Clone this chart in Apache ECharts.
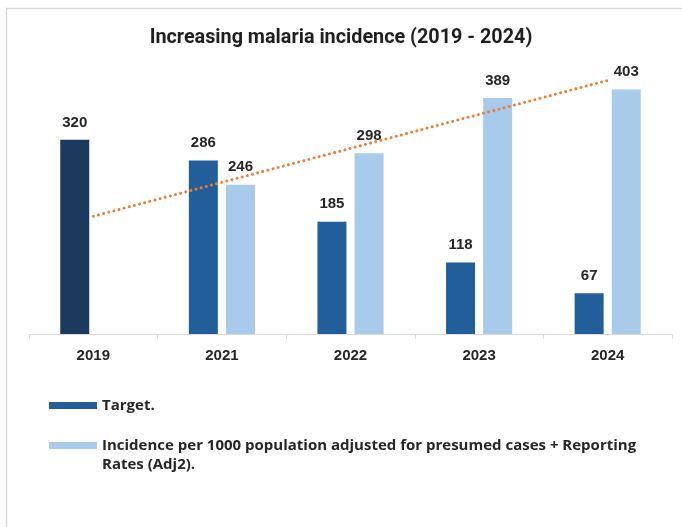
<!DOCTYPE html>
<html>
<head>
<meta charset="utf-8">
<script src="https://cdn.jsdelivr.net/npm/echarts@6/dist/echarts.min.js"></script>
<style>
html,body{margin:0;padding:0;background:#fff;}
#chart{width:682px;height:527px;}
</style>
</head>
<body>
<div id="chart"></div>
<script>
const titleText = 'Increasing malaria incidence (2019 - 2024)';
const categories = ['2019', '2021', '2022', '2023', '2024'];
const targetName = 'Target.';
const targetValues = [320, 286, 185, 118, 67];
const incidenceLines = ['Incidence per 1000 population adjusted for presumed cases + Reporting', 'Rates (Adj2).'];
const incidenceName = incidenceLines.join(' ');
const incidenceValues = [null, 246, 298, 389, 403];
const trendValues = [194, null, null, null, 418];

const chart = echarts.init(document.getElementById('chart'));
const labelFont = {fontFamily: 'Liberation Sans, Arial, sans-serif', fontWeight: 'bold', color: '#262626'};
const legendFont = {fontFamily: 'Open Sans, Liberation Sans, sans-serif', fontWeight: 'bold', color: '#262626', fontSize: 15, lineHeight: 19};

chart.setOption({
  animation: false,
  backgroundColor: '#ffffff',
  graphic: [{
    type: 'rect', left: 4, top: 6, silent: true,
    shape: {width: 700, height: 520},
    style: {fill: 'none', stroke: '#d9d9d9', lineWidth: 1.5}
  }],
  title: {
    text: titleText, left: 'center', top: 23,
    textStyle: {fontFamily: 'Roboto, Liberation Sans, sans-serif', fontWeight: 'bold', fontSize: 19.8, color: '#1f1f1f'}
  },
  grid: {left: 29, right: 10, top: 61, height: 273, containLabel: false},
  xAxis: {
    type: 'category', data: categories,
    axisLine: {lineStyle: {color: '#d9d9d9', width: 1}},
    axisTick: {show: true, length: 5, lineStyle: {color: '#d9d9d9'}},
    axisLabel: Object.assign({fontSize: 15, margin: 14}, labelFont)
  },
  yAxis: {type: 'value', min: 0, max: 450, show: false, splitLine: {show: false}},
  legend: [
    {
      orient: 'vertical', left: 49, top: 396, padding: 0,
      itemWidth: 48, itemHeight: 7, icon: 'rect',
      data: [targetName],
      textStyle: legendFont
    },
    {
      orient: 'vertical', left: 49, top: 417, padding: 0,
      itemWidth: 48, itemHeight: 7, icon: 'rect',
      data: [incidenceName],
      formatter: function () { return '\n' + incidenceLines.join('\n'); },
      textStyle: legendFont
    }
  ],
  series: [
    {
      name: targetName, type: 'bar', data: targetValues.map((v, i) => i === 0 ? {value: v, itemStyle: {color: '#1b3a5e'}} : v),
      barWidth: 29, barGap: '28%',
      itemStyle: {color: '#225e99'},
      label: Object.assign({show: true, position: 'top', distance: 10, fontSize: 15}, labelFont)
    },
    {
      name: incidenceName, type: 'bar', data: incidenceValues,
      barWidth: 29,
      itemStyle: {color: '#a8caeb'},
      label: Object.assign({show: true, position: 'top', distance: 10, fontSize: 15}, labelFont)
    },
    {
      name: 'Trend', type: 'line', data: trendValues, connectNulls: true,
      symbol: 'none', silent: true, z: 5,
      lineStyle: {color: '#ed7d31', width: 3, type: [0.01, 5.3], cap: 'round'}
    }
  ]
});
</script>
</body>
</html>
